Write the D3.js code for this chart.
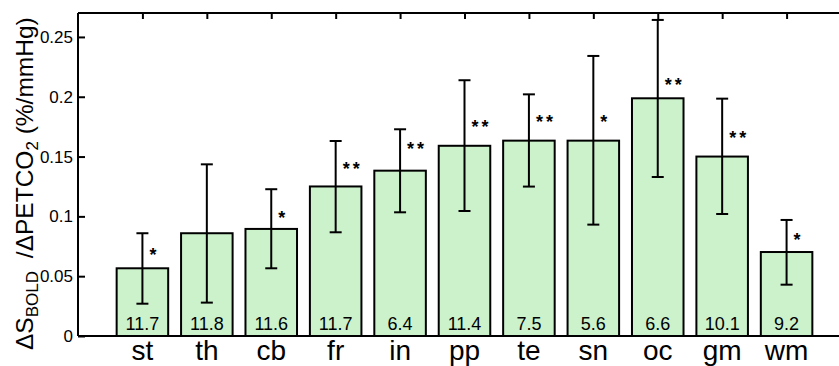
<!DOCTYPE html>
<html>
<head>
<meta charset="utf-8">
<script src="https://cdn.jsdelivr.net/npm/d3@7"></script>
<style>
  html, body { margin: 0; padding: 0; background: #fff; }
  svg { display: block; }
  text { font-family: Arial, "Liberation Sans", Helvetica, sans-serif; fill: #000; }
</style>
</head>
<body>
<svg id="chart" width="839" height="366"></svg>
<script>
// ---- data ----
const categories = ["st", "th", "cb", "fr", "in", "pp", "te", "sn", "oc", "gm", "wm"];
const means      = [0.0566, 0.0859, 0.0895, 0.125, 0.1382, 0.159, 0.1633, 0.1633, 0.1987, 0.150, 0.0702];
const errLow     = [0.027, 0.0279, 0.0566, 0.0867, 0.1034, 0.1045, 0.1249, 0.0931, 0.1329, 0.102, 0.0429];
const errHigh    = [0.0859, 0.1435, 0.1227, 0.163, 0.1728, 0.2138, 0.202, 0.2341, 0.2642, 0.1984, 0.097];
const counts     = ["11.7", "11.8", "11.6", "11.7", "6.4", "11.4", "7.5", "5.6", "6.6", "10.1", "9.2"];
const stars      = ["*", "", "*", "**", "**", "**", "**", "*", "**", "**", "*"];
const starLevel  = [0.0705, 0, 0.101, 0.142, 0.159, 0.177, 0.181, 0.181, 0.212, 0.168, 0.083];
const yTicks     = [0, 0.05, 0.1, 0.15, 0.2, 0.25];
const yTickLabels = ["0", "0.05", "0.1", "0.15", "0.2", "0.25"];

// ---- layout ----
const padL = 78, padT = 13, padB = 336, padR = 851;
const svg = d3.select("#chart");

const x = d3.scaleLinear().domain([0, categories.length + 1]).range([padL, padR]);
const y = d3.scaleLinear().domain([0, 0.27]).range([padB, padT]);
const step = x(1) - x(0);
const barW = 0.8 * step;
const capW = 12;

const data = categories.map((c, i) => ({
  c, i, m: means[i], lo: errLow[i], hi: errHigh[i], n: counts[i], s: stars[i], sl: starLevel[i]
}));

// bars
svg.append("g").selectAll("rect").data(data).join("rect")
  .attr("x", d => x(d.i + 1) - barW / 2)
  .attr("y", d => y(d.m))
  .attr("width", barW)
  .attr("height", d => y(0) - y(d.m))
  .attr("fill", "#ccf2cc")
  .attr("stroke", "#000")
  .attr("stroke-width", 2);

// counts inside bars
svg.append("g").selectAll("text").data(data).join("text")
  .attr("x", d => x(d.i + 1))
  .attr("y", 330)
  .attr("text-anchor", "middle")
  .attr("font-size", 18)
  .text(d => d.n);

// error bars
const eb = svg.append("g").attr("stroke", "#000").attr("stroke-width", 2);
data.forEach(d => {
  const cx = x(d.i + 1);
  eb.append("line").attr("x1", cx).attr("x2", cx).attr("y1", y(d.lo)).attr("y2", y(d.hi));
  eb.append("line").attr("x1", cx - capW / 2).attr("x2", cx + capW / 2).attr("y1", y(d.lo)).attr("y2", y(d.lo));
  eb.append("line").attr("x1", cx - capW / 2).attr("x2", cx + capW / 2).attr("y1", y(d.hi)).attr("y2", y(d.hi));
});

// significance stars
svg.append("g").selectAll("text").data(data.filter(d => d.s)).join("text")
  .attr("x", d => x(d.i + 1) + 7)
  .attr("y", d => y(d.sl) + 9)
  .attr("font-size", 18)
  .attr("font-weight", "bold")
  .attr("letter-spacing", 3)
  .text(d => d.s);

// axes
const yAxis = d3.axisLeft(y).tickValues(yTicks)
  .tickFormat((d, i) => yTickLabels[i]).tickSize(-7).tickPadding(5);
const gy = svg.append("g").attr("transform", `translate(${padL},0)`).call(yAxis);
gy.select(".domain").remove();
gy.selectAll(".tick line").attr("stroke", "#000").attr("stroke-width", 2);
gy.selectAll(".tick text").attr("font-size", 17).attr("font-family", "Arial, 'Liberation Sans', sans-serif");

const topAxis = d3.axisTop(x).tickValues(categories.map((c, i) => i + 1))
  .tickFormat("").tickSize(-6);
const gt = svg.append("g").attr("transform", `translate(0,${padT})`).call(topAxis);
gt.select(".domain").remove();
gt.selectAll(".tick line").attr("stroke", "#000").attr("stroke-width", 2);

// frame lines
const frame = svg.append("g").attr("stroke", "#000").attr("stroke-width", 2);
frame.append("line").attr("x1", padL).attr("x2", padR).attr("y1", padT).attr("y2", padT);
frame.append("line").attr("x1", padL).attr("x2", padR).attr("y1", padB).attr("y2", padB);
frame.append("line").attr("x1", padL).attr("x2", padL).attr("y1", padT).attr("y2", padB);

// x category labels
svg.append("g").selectAll("text").data(data).join("text")
  .attr("x", d => x(d.i + 1))
  .attr("y", 360)
  .attr("text-anchor", "middle")
  .attr("font-size", 28)
  .text(d => d.c);

// y label
const yl = svg.append("text")
  .attr("transform", "translate(33,350) rotate(-90)")
  .attr("font-size", 24.5);
yl.append("tspan").text("ΔS");
yl.append("tspan").attr("font-size", 17).attr("dy", 4.5).text("BOLD");
yl.append("tspan").attr("dy", -4.5).attr("dx", 6).text(" /ΔPETCO");
yl.append("tspan").attr("font-size", 17).attr("dy", 4.5).text("2");
yl.append("tspan").attr("dy", -4.5).text(" (%/mmHg)");
</script>
</body>
</html>
